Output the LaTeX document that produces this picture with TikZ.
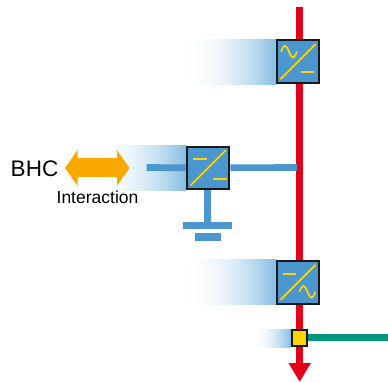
\documentclass[tikz,border=0pt]{standalone}
\usepackage{fontspec}
\setmainfont{Liberation Sans}
\usepackage{xcolor}
\usetikzlibrary{arrows.meta, calc}
\definecolor{busred}{HTML}{E2001A}
\definecolor{convblue}{HTML}{4B96CE}
\definecolor{fadeblue}{HTML}{86BEE3}
\definecolor{symyellow}{HTML}{FFD500}
\definecolor{bhcorange}{HTML}{F9A800}
\definecolor{gridgreen}{HTML}{00967D}
\pgfdeclarehorizontalshading{softfade}{100bp}{color(0bp)=(white); color(25bp)=(white); color(33bp)=(fadeblue!3); color(41bp)=(fadeblue!11); color(50bp)=(fadeblue!27); color(58bp)=(fadeblue!45); color(66bp)=(fadeblue!68); color(75bp)=(fadeblue); color(100bp)=(fadeblue)}

\begin{document}
\begin{tikzpicture}[
    x=1pt, y=-1pt,
    converter/.style={rectangle, draw=black!90, fill=convblue, line width=2pt, minimum size=42.5pt, inner sep=0pt},
    glow/.style={rectangle, shading=softfade, minimum height=#1, minimum width=90pt, inner sep=0pt, anchor=east},
    earthbar/.style={rectangle, fill=convblue, minimum height=7pt, inner sep=0pt},
    redbus/.style={draw=busred, line width=7pt},
    dcline/.style={draw=convblue, line width=6.7pt},
    symbol/.style={draw=symyellow, line width=1.7pt},
    wave/.pic={\draw[symbol] (0,0) sin (4,-6) cos (8,0) sin (12,6) cos (16,0);}
]
\useasboundingbox (0,0) rectangle (388,382);

% Glow behind converters
\node[glow=45pt] (glowtop) at (276,61.7) {};
\node[glow=45pt] (glowmid) at (186,167.8) {};
\node[glow=45pt] (glowlow) at (276,282.3) {};
\node[glow=18pt, minimum width=38pt] (glowjunction) at (291,338) {};

% Red bus
\coordinate (bustop) at (299.7,7);
\coordinate (bustip) at (299.7,382);
\draw[redbus, -{Triangle[length=19pt,width=21pt]}] (bustop) -- (bustip);

% Green feeder
\node[rectangle, draw=black!90, fill=symyellow, line width=2pt, minimum size=15.5pt, inner sep=0pt] (junction) at (299.5,338) {};
\coordinate (feederend) at (388,337.5);
\draw[gridgreen, line width=6.5pt] (junction.east |- feederend) -- (feederend);

% Converters
\node[converter] (convtop) at (298,61.7) {};
\node[converter] (convmid) at (208.2,167.8) {};
\node[converter] (convlow) at (298,282.3) {};

% DC side and earth
\coordinate (stubend) at (146.7,167.5);
\coordinate (busjoin) at (297,167.5);
\node[earthbar, minimum width=49pt] (earthupper) at (207.7,225.3) {};
\node[earthbar, minimum width=26pt, minimum height=7.5pt] (earthlower) at (208,237) {};
\draw[dcline] (stubend) -- (convmid.west);
\draw[dcline] (convmid.east) -- (busjoin);
\draw[dcline] (convmid.south -| earthupper) -- (earthupper);

% Converter symbols
\foreach \conv in {convtop, convmid, convlow} {
    \draw[symbol] ($(\conv)+(-17.5,17.5)$) -- ($(\conv)+(17.5,-17.5)$);
}
\pic at ($(convtop)+(-17,-10)$) {wave};
\draw[symbol] ($(convtop)+(2.7,10.3)$) -- ($(convtop)+(16,10.3)$);
\draw[symbol] ($(convmid)+(-14.8,-8.5)$) -- ($(convmid)+(-1.5,-8.5)$);
\draw[symbol] ($(convmid)+(5,11.5)$) -- ($(convmid)+(18.5,11.5)$);
\draw[symbol] ($(convlow)+(-14.7,-8.3)$) -- ($(convlow)+(-2,-8.3)$);
\pic at ($(convlow)+(1.5,9.5)$) {wave};

% BHC interaction
\coordinate (bhcleft) at (65,168);
\coordinate (bhcright) at (129.5,168);
\draw[bhcorange, line width=19pt, {Triangle[length=12.5pt,width=35pt]}-{Triangle[length=12.5pt,width=35pt]}] (bhcleft) -- (bhcright);
\node[font=\fontsize{22.5}{24}\selectfont, inner sep=0pt] (bhc) at (34.5,168.5) {BHC};
\node[font=\fontsize{17.5}{20}\selectfont, inner sep=0pt] (interaction) at (97.5,197.5) {Interaction};

\end{tikzpicture}
\end{document}
